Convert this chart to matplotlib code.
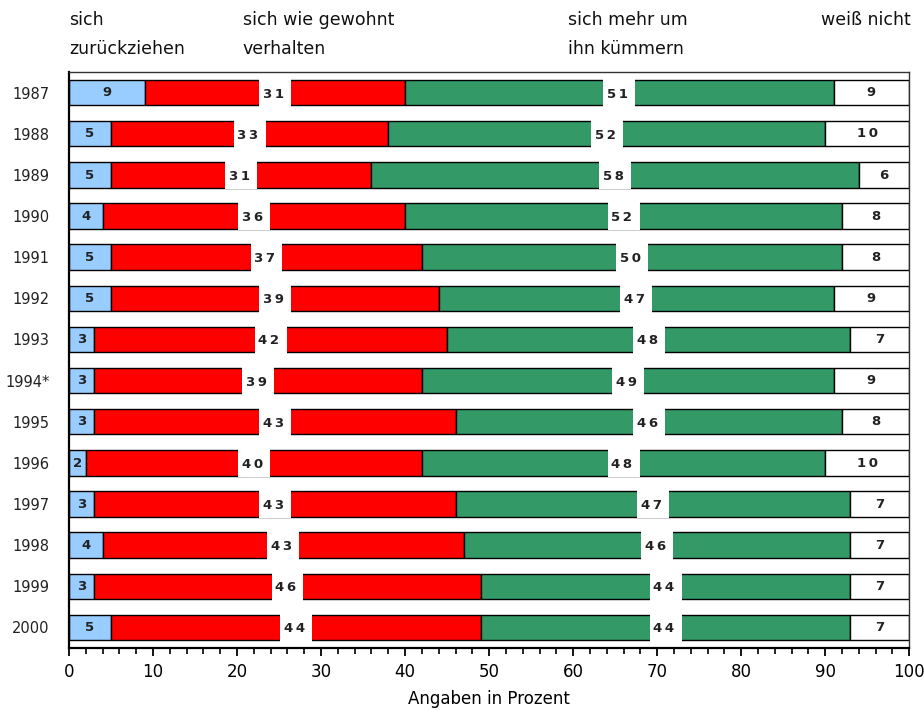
import numpy as np
import matplotlib
matplotlib.use("Agg")
from matplotlib import pyplot as plt
from matplotlib.transforms import blended_transform_factory

years = ["1987", "1988", "1989", "1990", "1991", "1992", "1993",
         "1994*", "1995", "1996", "1997", "1998", "1999", "2000"]
zurueck = [9, 5, 5, 4, 5, 5, 3, 3, 3, 2, 3, 4, 3, 5]
gewohnt = [31, 33, 31, 36, 37, 39, 42, 39, 43, 40, 43, 43, 46, 44]
kuemmern = [51, 52, 58, 52, 50, 47, 48, 49, 46, 48, 47, 46, 44, 44]
weiss = [9, 10, 6, 8, 8, 9, 7, 9, 8, 10, 7, 7, 7, 7]
headers = ["sich\nzurückziehen", "sich wie gewohnt\nverhalten",
           "sich mehr um\nihn kümmern", "weiß nicht"]

colors = ["#99CCFF", "#FF0000", "#339966", "#FFFFFF"]

plt.rcParams["font.family"] = "DejaVu Sans"

fig = plt.figure(figsize=(9.24, 7.1), dpi=100)
ax = fig.add_axes([0.0747, 0.0873, 0.9093, 0.8113])

y = np.arange(len(years))
h = 0.62
left = np.zeros(len(years))
series = [zurueck, gewohnt, kuemmern, weiss]
for vals, c in zip(series, colors):
    ax.barh(y, vals, left=left, height=h, color=c, edgecolor="black", linewidth=1.0, zorder=2)
    left = left + np.array(vals)

def spaced(v):
    return "\u2009".join(str(v))

lab = dict(ha="center", va="center_baseline", fontsize=9.5, fontweight="bold",
           color="#222222", zorder=4)
gap = 3.8
for i in range(len(years)):
    b = zurueck[i]
    r = b + gewohnt[i]
    g = r + kuemmern[i]
    # blue label
    ax.text(b / 2, i - 0.03, str(zurueck[i]), **lab)
    # red and green labels sit in white gaps
    for lo, hi, v in [(b, r, gewohnt[i]), (r, g, kuemmern[i])]:
        c = (lo + hi) / 2
        ax.barh(i, gap, left=c - gap / 2, height=h + 0.08, color="white",
                edgecolor="none", zorder=3)
        ax.text(c - 0.2, i, spaced(v), **lab)
    # white label
    ax.text((g + 100) / 2, i - 0.03, spaced(weiss[i]), **lab)

ax.set_xlim(0, 100)
ax.set_ylim(len(years) - 0.5, -0.5)
ax.set_yticks(y)
ax.set_yticklabels(years, fontsize=10.5, color="#222222")
ax.tick_params(axis="y", length=0, pad=14)
ax.set_xticks(np.arange(0, 101, 10))
ax.set_xticks(np.arange(0, 101, 2), minor=True)
ax.tick_params(axis="x", which="major", length=6, width=1.3, labelsize=12, pad=5)
ax.tick_params(axis="x", which="minor", length=4, width=1.2)
ax.set_xlabel("Angaben in Prozent", fontsize=12, labelpad=6)

for s in ["left", "bottom"]:
    ax.spines[s].set_linewidth(1.6)
for s in ["top", "right"]:
    ax.spines[s].set_linewidth(1.0)
    ax.spines[s].set_color("#333333")

trans = blended_transform_factory(ax.transData, fig.transFigure)
hx = [0, 20.7, 59.4, 100.2]
for i, (t, x) in enumerate(zip(headers, hx)):
    ax.text(x, 1 - 11 / 710, t, transform=trans, ha="right" if i == 3 else "left",
            va="top", fontsize=12.5, linespacing=1.75, color="#111111")

plt.savefig("out.png")
